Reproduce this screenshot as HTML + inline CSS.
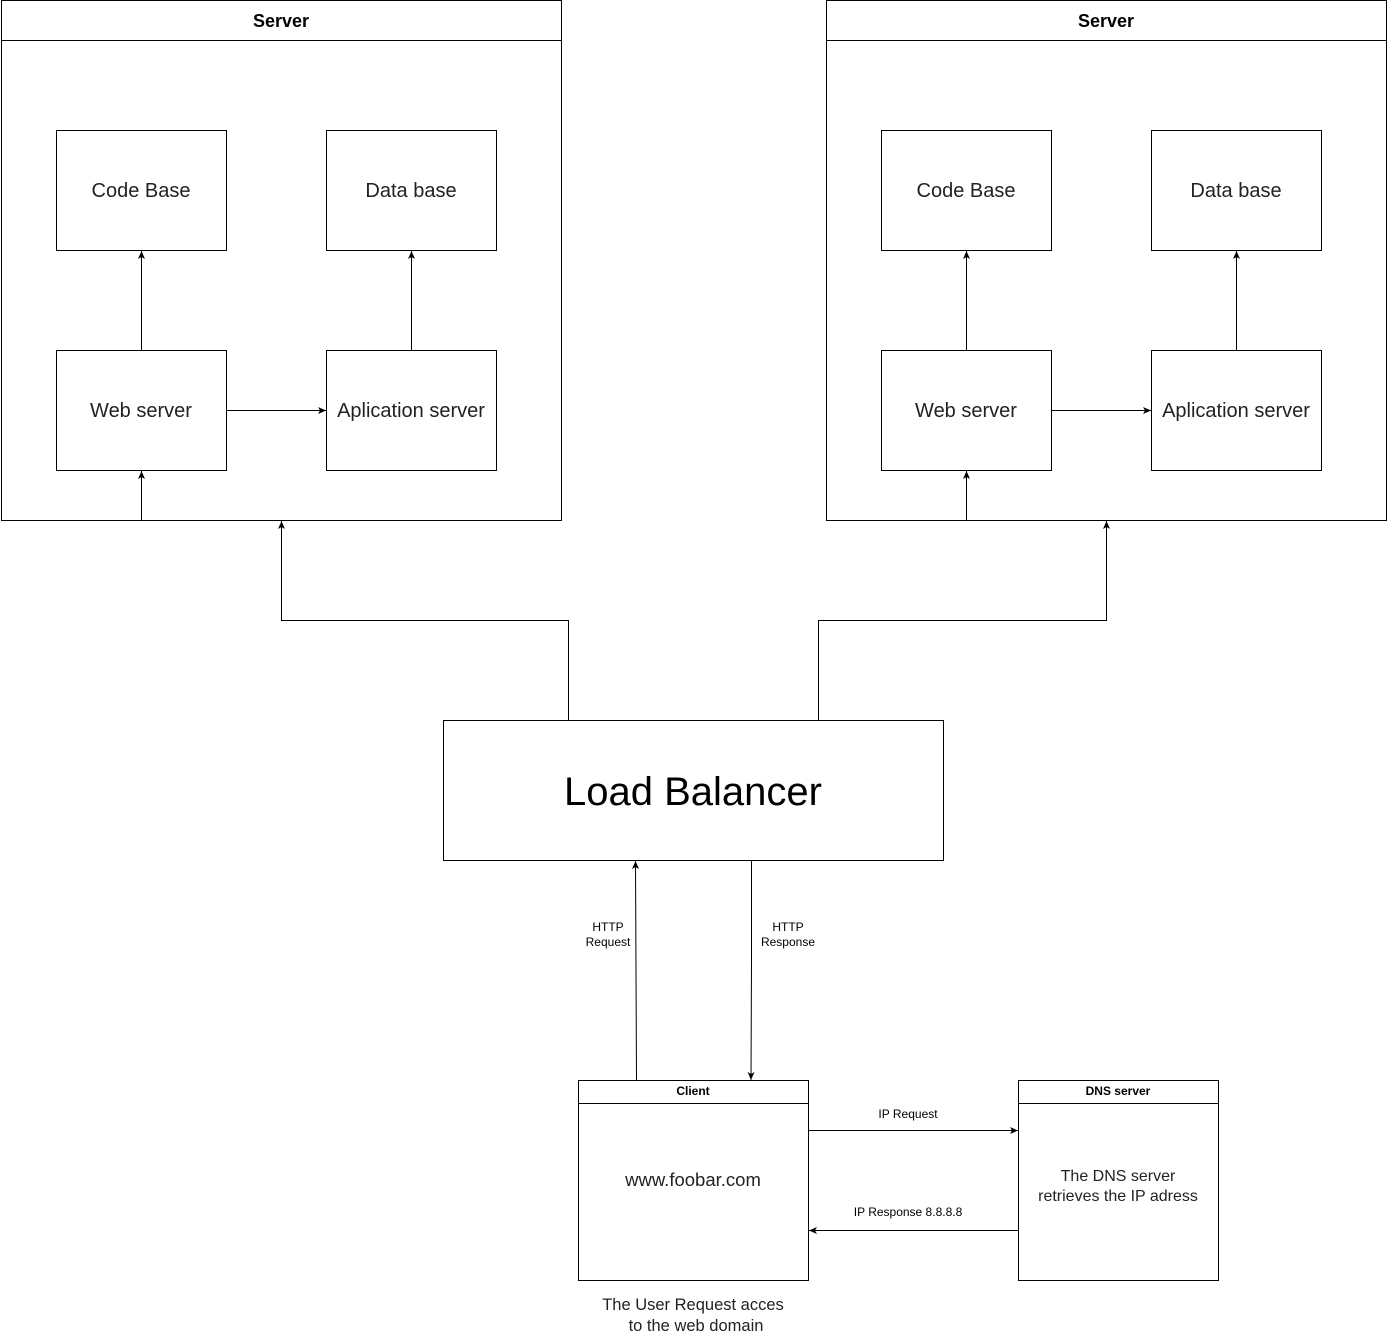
<!DOCTYPE html>
<html><head><meta charset="utf-8"><style>
html,body{margin:0;padding:0;background:#fff;}
svg{display:block;font-family:"Liberation Sans",Arial,sans-serif;}
</style></head><body>
<svg width="1387" height="1341" viewBox="0 0 1387 1341" xmlns="http://www.w3.org/2000/svg">
<defs>
<marker id="a" markerWidth="10" markerHeight="10" refX="8" refY="5" orient="auto" markerUnits="userSpaceOnUse">
<path d="M0,1.5 L8,5 L0,8.5 L2,5 Z" fill="#000"/>
</marker>
</defs>
<g fill="#fff" stroke="#000" stroke-width="1">
<rect x="1.5" y="0.5" width="560" height="520"/>
<line x1="1.5" y1="40.5" x2="561.5" y2="40.5"/>
<rect x="56.5" y="130.5" width="170" height="120"/>
<rect x="326.5" y="130.5" width="170" height="120"/>
<rect x="56.5" y="350.5" width="170" height="120"/>
<rect x="326.5" y="350.5" width="170" height="120"/>
<rect x="826.5" y="0.5" width="560" height="520"/>
<line x1="826.5" y1="40.5" x2="1386.5" y2="40.5"/>
<rect x="881.5" y="130.5" width="170" height="120"/>
<rect x="1151.5" y="130.5" width="170" height="120"/>
<rect x="881.5" y="350.5" width="170" height="120"/>
<rect x="1151.5" y="350.5" width="170" height="120"/>
<rect x="443.5" y="720.5" width="500" height="140"/>
<rect x="578.5" y="1080.5" width="230" height="200"/>
<line x1="578.5" y1="1103.5" x2="808.5" y2="1103.5"/>
<rect x="1018.5" y="1080.5" width="200" height="200"/>
<line x1="1018.5" y1="1103.5" x2="1218.5" y2="1103.5"/>
</g>
<g fill="none" stroke="#000" stroke-width="1" marker-end="url(#a)">
<line x1="141.5" y1="350" x2="141.5" y2="251"/>
<line x1="411.5" y1="350" x2="411.5" y2="251"/>
<line x1="227" y1="410.5" x2="326" y2="410.5"/>
<line x1="141.5" y1="520" x2="141.5" y2="471"/>
<line x1="966.5" y1="350" x2="966.5" y2="251"/>
<line x1="1236.5" y1="350" x2="1236.5" y2="251"/>
<line x1="1052" y1="410.5" x2="1151" y2="410.5"/>
<line x1="966.5" y1="520" x2="966.5" y2="471"/>
<polyline points="568.5,720 568.5,620.5 281.5,620.5 281.5,521"/>
<polyline points="818.5,720 818.5,620.5 1106.5,620.5 1106.5,521"/>
<line x1="636.5" y1="1080" x2="635.5" y2="861"/>
<polyline points="751.5,861 751.5,960 751,1080"/>
<line x1="809" y1="1130.5" x2="1018" y2="1130.5"/>
<line x1="1018" y1="1230.5" x2="809" y2="1230.5"/>
</g>
<g text-anchor="middle" fill="#000">
<text x="281" y="27" font-size="18" font-weight="bold">Server</text>
<text x="1106" y="27" font-size="18" font-weight="bold">Server</text>
<g font-size="20" fill="#222">
<text x="141" y="197">Code Base</text>
<text x="411" y="197">Data base</text>
<text x="141" y="417">Web server</text>
<text x="411" y="417">Aplication server</text>
<text x="966" y="197">Code Base</text>
<text x="1236" y="197">Data base</text>
<text x="966" y="417">Web server</text>
<text x="1236" y="417">Aplication server</text>
</g>
<text x="693" y="805" font-size="40">Load Balancer</text>
<g font-size="12">
<text x="608" y="931">HTTP</text>
<text x="608" y="946">Request</text>
<text x="788" y="931">HTTP</text>
<text x="788" y="946">Response</text>
<text x="908" y="1118">IP Request</text>
<text x="908" y="1216">IP Response 8.8.8.8</text>
<text x="693" y="1095" font-weight="bold">Client</text>
<text x="1118" y="1095" font-weight="bold">DNS server</text>
</g>
<text x="693" y="1186" font-size="18.5" fill="#222">www.foobar.com</text>
<text x="1118" y="1181" font-size="16" fill="#222">The DNS server</text>
<text x="1118" y="1201" font-size="16" fill="#222">retrieves the IP adress</text>
<text x="693" y="1310" font-size="16.5" fill="#222">The User Request acces</text>
<text x="696" y="1331" font-size="16.5" fill="#222">to the web domain</text>
</g>
</svg>
</body></html>
